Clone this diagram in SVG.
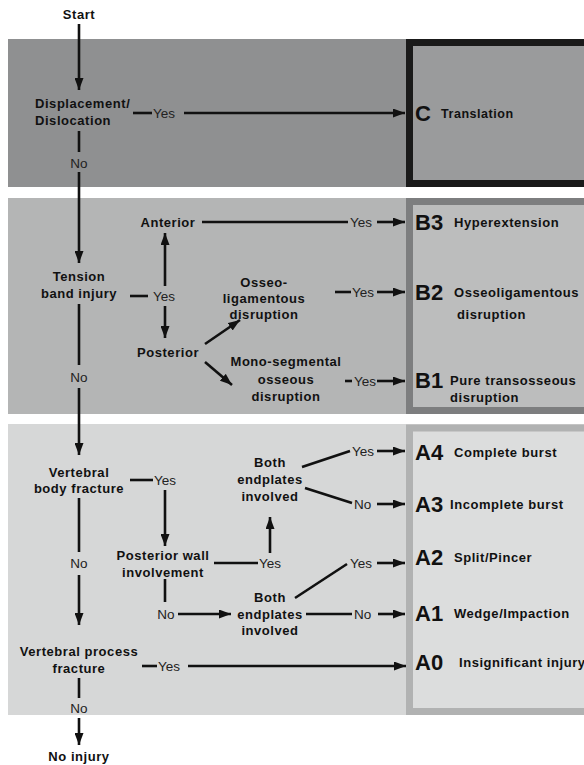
<svg xmlns="http://www.w3.org/2000/svg" width="584" height="765" viewBox="0 0 584 765">
<defs>
<marker id="ah" markerUnits="userSpaceOnUse" markerWidth="12" markerHeight="9" refX="12" refY="4.5" orient="auto">
<path d="M0,0 L12,4.5 L0,9 z" fill="#111"/>
</marker>
<style>
.n{font-family:"Liberation Sans",Arial,sans-serif;font-weight:bold;font-size:13px;fill:#111;letter-spacing:0.55px}
.l{font-family:"Liberation Sans",Arial,sans-serif;font-size:13.5px;fill:#222}
.code{font-family:"Liberation Sans",Arial,sans-serif;font-weight:bold;font-size:22px;fill:#111}
.c{stroke:#111;stroke-width:2.6;fill:none}
.a{marker-end:url(#ah)}
</style>
</defs>
<rect width="584" height="765" fill="#fff"/>
<g id="bands">
<rect x="8" y="39" width="576" height="148" fill="#8f9091"/>
<rect x="8" y="198" width="576" height="216" fill="#b4b5b5"/>
<rect x="8" y="424" width="576" height="291" fill="#d6d7d7"/>
</g>
<g id="boxC"><rect x="409.5" y="42.5" width="184" height="141" fill="#9a9b9c" stroke="#1a1a1a" stroke-width="7"/>
<text class="code" x="415" y="121">C</text><text class="n" x="441" y="118" style="font-size:12.5px">Translation</text></g>
<g id="boxB"><rect x="409.5" y="201.5" width="184" height="209" fill="#bcbdbd" stroke="#7d7e7f" stroke-width="7"/></g>
<g id="boxA"><rect x="409.5" y="428" width="184" height="283.5" fill="#dcdddd" stroke="#b1b2b2" stroke-width="7"/></g>
<g id="B3"><text class="code" x="415" y="230">B3</text><text class="n" x="454" y="227">Hyperextension</text></g>
<g id="B2"><text class="code" x="415" y="300">B2</text><text class="n" x="454" y="297">Osseoligamentous</text><text class="n" x="457" y="319">disruption</text></g>
<g id="B1"><text class="code" x="415" y="388">B1</text><text class="n" x="450" y="385">Pure transosseous</text><text class="n" x="450" y="402">disruption</text></g>
<g id="A4"><text class="code" x="415" y="460">A4</text><text class="n" x="454" y="457">Complete burst</text></g>
<g id="A3"><text class="code" x="415" y="512">A3</text><text class="n" x="450" y="509">Incomplete burst</text></g>
<g id="A2"><text class="code" x="415" y="565">A2</text><text class="n" x="454" y="562">Split/Pincer</text></g>
<g id="A1"><text class="code" x="415" y="621">A1</text><text class="n" x="454" y="618">Wedge/Impaction</text></g>
<g id="A0"><text class="code" x="415" y="670">A0</text><text class="n" x="459" y="667">Insignificant injury</text></g>

<g id="start"><text class="n" x="79" y="19" text-anchor="middle">Start</text></g>
<g id="displacement"><text class="n" x="35" y="108">Displacement/</text><text class="n" x="35" y="125">Dislocation</text></g>
<g id="tension"><text class="n" x="79" y="281" text-anchor="middle">Tension</text><text class="n" x="79" y="298" text-anchor="middle">band injury</text></g>
<g id="anterior"><text class="n" x="168" y="227" text-anchor="middle">Anterior</text></g>
<g id="posterior"><text class="n" x="168" y="357" text-anchor="middle">Posterior</text></g>
<g id="osseo"><text class="n" x="264" y="287" text-anchor="middle">Osseo-</text><text class="n" x="264" y="303" text-anchor="middle">ligamentous</text><text class="n" x="264" y="319" text-anchor="middle">disruption</text></g>
<g id="mono"><text class="n" x="286" y="366" text-anchor="middle">Mono-segmental</text><text class="n" x="286" y="384" text-anchor="middle">osseous</text><text class="n" x="286" y="401" text-anchor="middle">disruption</text></g>
<g id="vbody"><text class="n" x="79" y="477" text-anchor="middle">Vertebral</text><text class="n" x="79" y="493" text-anchor="middle">body fracture</text></g>
<g id="pwall"><text class="n" x="163" y="560" text-anchor="middle">Posterior wall</text><text class="n" x="163" y="577" text-anchor="middle">involvement</text></g>
<g id="both1"><text class="n" x="270" y="467" text-anchor="middle">Both</text><text class="n" x="270" y="484" text-anchor="middle">endplates</text><text class="n" x="270" y="501" text-anchor="middle">involved</text></g>
<g id="both2"><text class="n" x="270" y="602" text-anchor="middle">Both</text><text class="n" x="270" y="619" text-anchor="middle">endplates</text><text class="n" x="270" y="635" text-anchor="middle">involved</text></g>
<g id="vprocess"><text class="n" x="79" y="656" text-anchor="middle">Vertebral process</text><text class="n" x="79" y="673" text-anchor="middle">fracture</text></g>
<g id="noinjury"><text class="n" x="79" y="761" text-anchor="middle">No injury</text></g>

<g id="connectors">
<path class="c a" d="M79,24 V90"/>
<path class="c" d="M133,113 H152"/><text class="l" x="153" y="118">Yes</text><path class="c a" d="M184,113 H405"/>
<path class="c" d="M79,131 V152"/><text class="l" x="79" y="168" text-anchor="middle">No</text><path class="c a" d="M79,172 V263"/>
<path class="c" d="M130,296 H148"/><text class="l" x="153" y="301">Yes</text>
<path class="c a" d="M165,286 V233"/>
<path class="c a" d="M165,306 V338"/>
<path class="c" d="M202,222 H348"/><text class="l" x="350" y="227">Yes</text><path class="c a" d="M377,222 H405"/>
<path class="c a" d="M205,344 L240,320"/>
<path class="c a" d="M205,362 L232,385"/>
<path class="c" d="M335,292 H351"/><text class="l" x="352" y="297">Yes</text><path class="c a" d="M377,292 H405"/>
<path class="c" d="M345,381 H352"/><text class="l" x="354" y="386">Yes</text><path class="c a" d="M377,381 H405"/>
<path class="c" d="M79,304 V365"/><text class="l" x="79" y="382" text-anchor="middle">No</text><path class="c a" d="M79,388 V455"/>
<path class="c" d="M130,480 H153"/><text class="l" x="154" y="485">Yes</text>
<path class="c a" d="M165,490 V546"/>
<path class="c" d="M214,563 H258"/><text class="l" x="259" y="568">Yes</text>
<path class="c a" d="M270,553 V517"/>
<path class="c" d="M165,579 V602"/><text class="l" x="166" y="619" text-anchor="middle">No</text><path class="c a" d="M178,614 H231"/>
<path class="c" d="M302,467 L350,451"/><text class="l" x="352" y="456">Yes</text><path class="c a" d="M377,451 H405"/>
<path class="c" d="M305,488 L352,503"/><text class="l" x="354" y="509">No</text><path class="c a" d="M377,504 H405"/>
<path class="c" d="M295,598 L347,564"/><text class="l" x="350" y="568">Yes</text><path class="c a" d="M377,563 H405"/>
<path class="c" d="M306,614 H352"/><text class="l" x="354" y="619">No</text><path class="c a" d="M378,614 H405"/>
<path class="c" d="M79,498 V552"/><text class="l" x="79" y="568" text-anchor="middle">No</text><path class="c a" d="M79,575 V625"/>
<path class="c" d="M142,666 H157"/><text class="l" x="158" y="671">Yes</text><path class="c a" d="M188,666 H406"/>
<path class="c" d="M79,678 V698"/><text class="l" x="79" y="713" text-anchor="middle">No</text><path class="c a" d="M79,718 V745"/>
</g>
</svg>
